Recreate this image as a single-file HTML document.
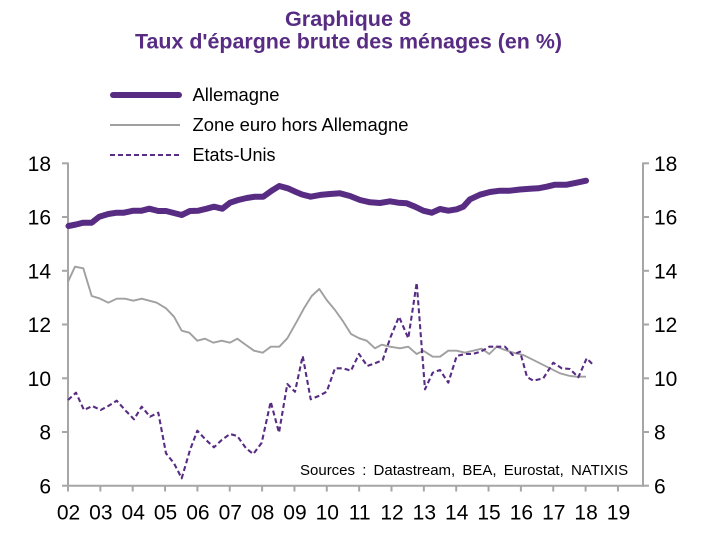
<!DOCTYPE html>
<html>
<head>
<meta charset="utf-8">
<style>
  html,body{margin:0;padding:0;background:#fff;}
  svg{display:block;}
  text{font-family:"Liberation Sans",Arial,sans-serif;}
</style>
</head>
<body>
<svg width="708" height="545" viewBox="0 0 708 545" xmlns="http://www.w3.org/2000/svg">
  <rect x="0" y="0" width="708" height="545" fill="#fff"/>

  <!-- Title -->
  <text x="285" y="26" font-size="21" font-weight="bold" fill="#582c83" textLength="126" lengthAdjust="spacingAndGlyphs">Graphique 8</text>
  <text x="135" y="48.5" font-size="21" font-weight="bold" fill="#582c83" textLength="427" lengthAdjust="spacingAndGlyphs">Taux d'épargne brute des ménages (en %)</text>

  <!-- Legend -->
  <line x1="113" y1="95" x2="179" y2="95" stroke="#582c83" stroke-width="6" stroke-linecap="round"/>
  <text x="192.5" y="101" font-size="18" fill="#000" textLength="87" lengthAdjust="spacingAndGlyphs">Allemagne</text>
  <line x1="110" y1="125" x2="180" y2="125" stroke="#a0a0a0" stroke-width="2"/>
  <text x="192.5" y="131" font-size="18" fill="#000" textLength="216" lengthAdjust="spacingAndGlyphs">Zone euro hors Allemagne</text>
  <line x1="110" y1="155" x2="180" y2="155" stroke="#582c83" stroke-width="2" stroke-dasharray="5,3"/>
  <text x="192.5" y="161" font-size="18" fill="#000" textLength="83" lengthAdjust="spacingAndGlyphs">Etats-Unis</text>

  <!-- Axes -->
  <g stroke="#a6a6a6" stroke-width="2" fill="none">
    <line x1="68" y1="162.5" x2="68" y2="486.7"/>
    <line x1="643" y1="162.5" x2="643" y2="486.7"/>
    <line x1="67" y1="485.7" x2="644" y2="485.7"/>
    <line x1="62" y1="163.3" x2="68" y2="163.3"/>
    <line x1="62" y1="217" x2="68" y2="217"/>
    <line x1="62" y1="270.8" x2="68" y2="270.8"/>
    <line x1="62" y1="324.5" x2="68" y2="324.5"/>
    <line x1="62" y1="378.3" x2="68" y2="378.3"/>
    <line x1="62" y1="432" x2="68" y2="432"/>
    <line x1="62" y1="485.7" x2="68" y2="485.7"/>
    <line x1="643" y1="163.3" x2="649" y2="163.3"/>
    <line x1="643" y1="217" x2="649" y2="217"/>
    <line x1="643" y1="270.8" x2="649" y2="270.8"/>
    <line x1="643" y1="324.5" x2="649" y2="324.5"/>
    <line x1="643" y1="378.3" x2="649" y2="378.3"/>
    <line x1="643" y1="432" x2="649" y2="432"/>
    <line x1="643" y1="485.7" x2="649" y2="485.7"/>
    <line x1="68" y1="485.7" x2="68" y2="491.5"/>
    <line x1="100.35" y1="485.7" x2="100.35" y2="491.5"/>
    <line x1="132.7" y1="485.7" x2="132.7" y2="491.5"/>
    <line x1="165.05" y1="485.7" x2="165.05" y2="491.5"/>
    <line x1="197.4" y1="485.7" x2="197.4" y2="491.5"/>
    <line x1="229.75" y1="485.7" x2="229.75" y2="491.5"/>
    <line x1="262.1" y1="485.7" x2="262.1" y2="491.5"/>
    <line x1="294.45" y1="485.7" x2="294.45" y2="491.5"/>
    <line x1="326.8" y1="485.7" x2="326.8" y2="491.5"/>
    <line x1="359.15" y1="485.7" x2="359.15" y2="491.5"/>
    <line x1="391.5" y1="485.7" x2="391.5" y2="491.5"/>
    <line x1="423.85" y1="485.7" x2="423.85" y2="491.5"/>
    <line x1="456.2" y1="485.7" x2="456.2" y2="491.5"/>
    <line x1="488.55" y1="485.7" x2="488.55" y2="491.5"/>
    <line x1="520.9" y1="485.7" x2="520.9" y2="491.5"/>
    <line x1="553.25" y1="485.7" x2="553.25" y2="491.5"/>
    <line x1="585.6" y1="485.7" x2="585.6" y2="491.5"/>
    <line x1="617.95" y1="485.7" x2="617.95" y2="491.5"/>
  </g>

  <!-- Left labels -->
  <g font-size="21" fill="#000" text-anchor="end">
    <text x="51" y="171">18</text>
    <text x="51" y="224.7">16</text>
    <text x="51" y="278.5">14</text>
    <text x="51" y="332.2">12</text>
    <text x="51" y="386">10</text>
    <text x="51" y="439.7">8</text>
    <text x="51" y="493.4">6</text>
  </g>
  <!-- Right labels -->
  <g font-size="21" fill="#000" text-anchor="start">
    <text x="654" y="171">18</text>
    <text x="654" y="224.7">16</text>
    <text x="654" y="278.5">14</text>
    <text x="654" y="332.2">12</text>
    <text x="654" y="386">10</text>
    <text x="654" y="439.7">8</text>
    <text x="654" y="493.4">6</text>
  </g>
  <!-- Bottom labels -->
  <g font-size="21" fill="#000" text-anchor="middle">
    <text x="68.5" y="519.5">02</text>
    <text x="100.85" y="519.5">03</text>
    <text x="133.2" y="519.5">04</text>
    <text x="165.55" y="519.5">05</text>
    <text x="197.9" y="519.5">06</text>
    <text x="230.25" y="519.5">07</text>
    <text x="262.6" y="519.5">08</text>
    <text x="294.95" y="519.5">09</text>
    <text x="327.3" y="519.5">10</text>
    <text x="359.65" y="519.5">11</text>
    <text x="392" y="519.5">12</text>
    <text x="424.35" y="519.5">13</text>
    <text x="456.7" y="519.5">14</text>
    <text x="489.05" y="519.5">15</text>
    <text x="521.4" y="519.5">16</text>
    <text x="553.75" y="519.5">17</text>
    <text x="586.1" y="519.5">18</text>
    <text x="618.45" y="519.5">19</text>
  </g>

  <!-- Sources -->
  <text x="300" y="475" font-size="15" fill="#000" word-spacing="3">Sources : Datastream, BEA, Eurostat, NATIXIS</text>

  <!-- Zone euro hors Allemagne -->
  <polyline fill="none" stroke="#a0a0a0" stroke-width="1.9" stroke-linejoin="round"
    points="68,281.7 75,266.7 83.3,268.3 91.7,296 99.3,298.3 108.3,302.7 116.7,298.7 125,298.7 133.3,300.7 141.7,298.7 149.3,300.7 156.7,302.7 166,308.3 174,316.7 181.7,330.7 189.3,332.7 197.3,340.7 205,338.7 213.3,342.7 221.7,340.7 230,342.7 237.3,338.7 246,345 254,350.7 262.7,352.7 270.7,346.7 279.3,346.7 287.3,338.3 296.7,321.7 304,308.3 311.7,296 319.3,289 326.7,300 335,310 343.3,321.7 351,334 359.3,338.3 366.7,340.7 375,348.3 381.7,344.7 390,346.7 400,348.3 408.3,346.7 416.7,354 423.3,350.7 432.7,356.7 440,356.7 448.3,350.7 456.7,350.7 465,352.7 473.3,350.7 481.7,348.7 489.3,354 496.7,346.7 505,350 513.3,352.7 523.3,355 530,358.3 540,363.3 550,368.3 560,373.3 570,376 576.7,376.7 586,376.7"/>

  <!-- Etats-Unis -->
  <polyline fill="none" stroke="#582c83" stroke-width="2.1" stroke-dasharray="5,3" stroke-linejoin="round"
    points="68,400 76,392.7 84,410 92.3,406 100.7,410 108.3,406 116.7,400.7 125,410 134,419.3 141.7,406.7 150,416.7 158.3,412.7 166,453.3 174,463.3 181.7,478.3 190,450 197.3,430.7 206,440 214,447.3 221.7,440 230,434 237.3,436 246,448.3 253.3,454 261.7,442.7 270.7,401.7 279,432.7 287.3,384 295,391.7 302.7,356 310.7,399.3 319.3,395.7 326.7,391.7 335,368.3 343.3,368.3 351,370.7 359,354 367.3,366 375,363.3 382.7,360 390.7,336.7 399,316.7 408.3,338.3 416.7,282.7 425,389.3 432.7,372.7 440,370 448.3,382.7 456.7,356 465,354 472.7,354 480.7,351.7 489.3,346.7 496.7,346.7 505,346.7 512.7,355 520,351.7 523.3,363.3 527,377 533.3,380.7 543.3,378.3 553.3,362.7 561.7,368.3 570,369 578.3,377.3 586.7,358.3 593.3,365"/>

  <!-- Allemagne -->
  <polyline fill="none" stroke="#582c83" stroke-width="6" stroke-linejoin="round" stroke-linecap="round"
    points="68.5,226 76,224.5 83.3,222.7 91.7,222.7 99.3,216.7 108.3,214 116.7,212.7 124,212.7 133.3,210.7 141.7,210.7 149.3,208.7 158.3,211 166,211 181.7,215 190,211 198.3,210.7 206.7,208.7 214,206.7 222.3,208.7 230,202.7 238.3,200 246.7,198 255,196.7 263.3,196.7 271.7,190.7 279.3,186 287.7,188.3 296,192 302,194.5 310.7,196.7 321.7,194.7 330,194 340,193.3 350,196 360,200 370,202.3 380,203 390,201.3 398.3,202.7 406.7,203.3 415,206.7 423.3,210.7 431.7,212.7 440,209 448.3,210.7 456.7,209.3 463.3,206.7 470,199.3 480,194.7 490,192 500,190.7 510,190.7 520,189.5 530,188.7 538.3,188.3 546.7,186.7 555,184.7 566.7,184.7 576.7,182.7 586,180.7"/>
</svg>
</body>
</html>
